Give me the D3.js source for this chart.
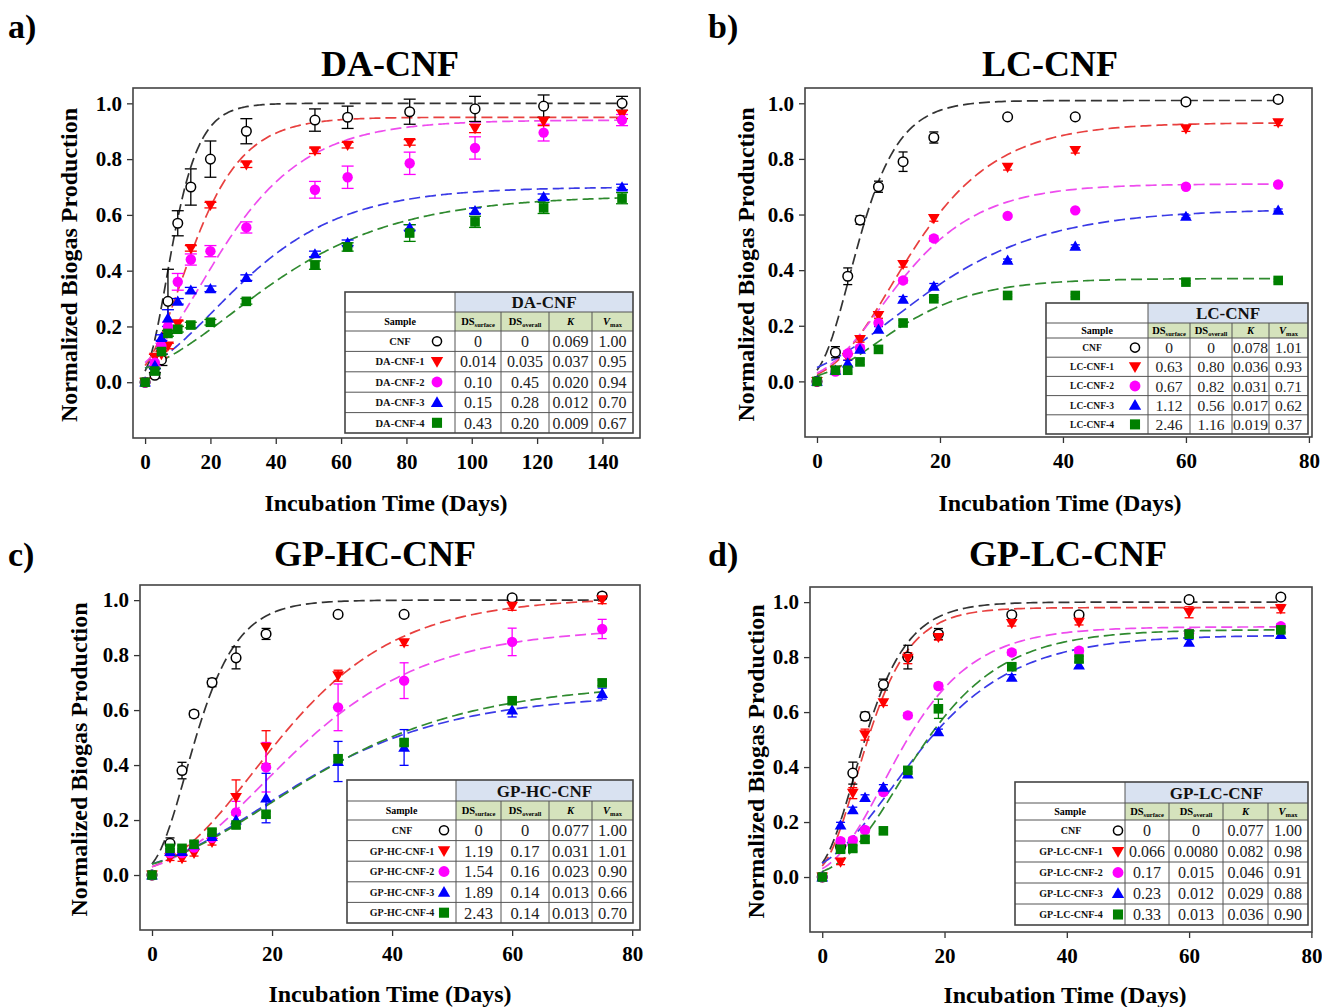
<!DOCTYPE html>
<html>
<head>
<meta charset="utf-8">
<script src="https://cdn.jsdelivr.net/npm/d3@7"></script>
<style>
  body { margin: 0; background: #fff; }
  svg { display: block; }
  text { font-family: "Liberation Serif", "Times New Roman", serif; }
</style>
</head>
<body>
<svg id="fig" width="1322" height="1007"></svg>
<script>
// ---------- sampling days ----------
const daysA = [0, 3, 5, 7, 10, 14, 20, 31, 52, 62, 81, 101, 122, 146];
const daysBCD = [0, 3, 5, 7, 10, 14, 19, 31, 42, 60, 75];

// ---------- a) DA-CNF ----------
const samplesA = ["CNF", "DA-CNF-1", "DA-CNF-2", "DA-CNF-3", "DA-CNF-4"];
const cnfA = [0, 0.025, 0.08, 0.29, 0.57, 0.70, 0.80, 0.90, 0.94, 0.95, 0.97, 0.98, 0.99, 1.00];
const da1 = [0, 0.09, 0.10, 0.13, 0.21, 0.48, 0.635, 0.78, 0.83, 0.85, 0.86, 0.91, 0.935, 0.96];
const da2 = [0, 0.07, 0.13, 0.20, 0.36, 0.44, 0.47, 0.555, 0.69, 0.735, 0.785, 0.84, 0.895, 0.94];
const da3 = [0, 0.06, 0.16, 0.23, 0.29, 0.33, 0.335, 0.375, 0.46, 0.50, 0.555, 0.615, 0.665, 0.70];
const da4 = [0, 0.04, 0.11, 0.175, 0.19, 0.205, 0.215, 0.29, 0.42, 0.485, 0.535, 0.575, 0.625, 0.66];
const cnfAErr = [0, 0.01, 0.02, 0.115, 0.045, 0.065, 0.065, 0.045, 0.04, 0.04, 0.045, 0.045, 0.04, 0.025];
const da1Err = [0, 0.01, 0.01, 0.01, 0.01, 0.01, 0.01, 0.01, 0.01, 0.01, 0.01, 0.015, 0.015, 0.015];
const da2Err = [0, 0.01, 0.01, 0.015, 0.03, 0.02, 0.02, 0.02, 0.03, 0.04, 0.04, 0.04, 0.03, 0.02];
const da3Err = [0, 0.01, 0.01, 0.03, 0.01, 0.01, 0.01, 0.01, 0.01, 0.01, 0.01, 0.01, 0.01, 0.01];
const da4Err = [0, 0.01, 0.01, 0.01, 0.01, 0.01, 0.01, 0.01, 0.015, 0.015, 0.03, 0.02, 0.02, 0.02];
const dsSurfaceA = ["0", "0.014", "0.10", "0.15", "0.43"];
const dsOverallA = ["0", "0.035", "0.45", "0.28", "0.20"];
const kA = ["0.069", "0.037", "0.020", "0.012", "0.009"];
const vmaxA = ["1.00", "0.95", "0.94", "0.70", "0.67"];
// Gompertz fit: start value and rate
const fitStartA = [0.04, 0.06, 0.07, 0.05, 0.05];
const fitRateA = [0.18, 0.095, 0.0566, 0.046, 0.036];

// ---------- b) LC-CNF ----------
const samplesB = ["CNF", "LC-CNF-1", "LC-CNF-2", "LC-CNF-3", "LC-CNF-4"];
const cnfB = [0, 0.105, 0.378, 0.58, 0.70, 0.79, 0.877, 0.951, 0.951, 1.005, 1.014];
const lc1 = [0, 0.04, 0.086, 0.151, 0.237, 0.421, 0.586, 0.77, 0.831, 0.909, 0.93];
const lc2 = [0, 0.035, 0.10, 0.12, 0.21, 0.363, 0.514, 0.595, 0.615, 0.70, 0.708];
const lc3 = [0, 0.04, 0.066, 0.115, 0.187, 0.295, 0.342, 0.435, 0.486, 0.593, 0.615];
const lc4 = [0, 0.04, 0.04, 0.07, 0.115, 0.21, 0.297, 0.309, 0.309, 0.357, 0.363];
const cnfBErr = [0, 0.02, 0.03, 0.015, 0.02, 0.035, 0.02, 0.005, 0.005, 0.01, 0.01];
const lc1Err = [0, 0.01, 0.01, 0.01, 0.01, 0.01, 0.01, 0.01, 0.01, 0.01, 0.01];
const lc2Err = [0, 0.01, 0.01, 0.01, 0.01, 0.01, 0.01, 0.005, 0.005, 0.005, 0.005];
const lc3Err = [0, 0.01, 0.01, 0.01, 0.01, 0.01, 0.01, 0.005, 0.005, 0.005, 0.005];
const lc4Err = [0, 0.01, 0.01, 0.01, 0.01, 0.01, 0.005, 0.005, 0.005, 0.005, 0.005];
const dsSurfaceB = ["0", "0.63", "0.67", "1.12", "2.46"];
const dsOverallB = ["0", "0.80", "0.82", "0.56", "1.16"];
const kB = ["0.078", "0.036", "0.031", "0.017", "0.019"];
const vmaxB = ["1.01", "0.93", "0.71", "0.62", "0.37"];
const fitStartB = [0.04, 0.025, 0.03, 0.05, 0.02];
const fitRateB = [0.225, 0.107, 0.113, 0.074, 0.112];

// ---------- c) GP-HC-CNF ----------
const samplesC = ["CNF", "GP-HC-CNF-1", "GP-HC-CNF-2", "GP-HC-CNF-3", "GP-HC-CNF-4"];
const cnfC = [0, 0.115, 0.38, 0.586, 0.70, 0.79, 0.877, 0.948, 0.948, 1.008, 1.015];
const hc1 = [0, 0.063, 0.06, 0.079, 0.119, 0.282, 0.465, 0.725, 0.845, 0.978, 1.002];
const hc2 = [0, 0.08, 0.08, 0.10, 0.135, 0.228, 0.392, 0.61, 0.707, 0.848, 0.895];
const hc3 = [0, 0.085, 0.085, 0.11, 0.14, 0.20, 0.28, 0.413, 0.464, 0.60, 0.66];
const hc4 = [0, 0.097, 0.097, 0.112, 0.156, 0.182, 0.221, 0.423, 0.482, 0.634, 0.699];
const cnfCErr = [0, 0.02, 0.03, 0.012, 0.015, 0.04, 0.02, 0.005, 0.005, 0.01, 0.01];
const hc1Err = [0, 0.01, 0.01, 0.01, 0.01, 0.064, 0.06, 0.02, 0.01, 0.015, 0.015];
const hc2Err = [0, 0.01, 0.01, 0.01, 0.01, 0.04, 0.09, 0.085, 0.065, 0.05, 0.035];
const hc3Err = [0, 0.01, 0.01, 0.01, 0.01, 0.03, 0.09, 0.073, 0.065, 0.025, 0.02];
const hc4Err = [0, 0.01, 0.01, 0.01, 0.01, 0.01, 0.01, 0.01, 0.01, 0.01, 0.01];
const dsSurfaceC = ["0", "1.19", "1.54", "1.89", "2.43"];
const dsOverallC = ["0", "0.17", "0.16", "0.14", "0.14"];
const kC = ["0.077", "0.031", "0.023", "0.013", "0.013"];
const vmaxC = ["1.00", "1.01", "0.90", "0.66", "0.70"];
const fitStartC = [0.04, 0.03, 0.03, 0.04, 0.04];
const fitRateC = [0.21, 0.075, 0.0664, 0.0572, 0.054];

// ---------- d) GP-LC-CNF ----------
const samplesD = ["CNF", "GP-LC-CNF-1", "GP-LC-CNF-2", "GP-LC-CNF-3", "GP-LC-CNF-4"];
const cnfD = [0, 0.11, 0.378, 0.585, 0.70, 0.80, 0.884, 0.954, 0.954, 1.009, 1.018];
const lcg1 = [0, 0.055, 0.305, 0.518, 0.634, 0.796, 0.872, 0.923, 0.927, 0.963, 0.976];
const lcg2 = [0, 0.13, 0.134, 0.171, 0.309, 0.588, 0.695, 0.817, 0.823, 0.887, 0.912];
const lcg3 = [0, 0.189, 0.244, 0.289, 0.326, 0.374, 0.528, 0.726, 0.771, 0.854, 0.882];
const lcg4 = [0, 0.101, 0.104, 0.137, 0.168, 0.388, 0.612, 0.765, 0.793, 0.884, 0.899];
const cnfDErr = [0, 0.02, 0.04, 0.015, 0.02, 0.043, 0.02, 0.005, 0.005, 0.01, 0.01];
const lcg1Err = [0, 0.01, 0.02, 0.02, 0.01, 0.02, 0.01, 0.01, 0.01, 0.02, 0.015];
const lcg2Err = [0, 0.01, 0.01, 0.01, 0.01, 0.01, 0.01, 0.01, 0.01, 0.01, 0.01];
const lcg3Err = [0, 0.01, 0.01, 0.01, 0.01, 0.01, 0.01, 0.01, 0.01, 0.01, 0.01];
const lcg4Err = [0, 0.01, 0.01, 0.01, 0.01, 0.01, 0.035, 0.01, 0.01, 0.015, 0.01];
const dsSurfaceD = ["0", "0.066", "0.17", "0.23", "0.33"];
const dsOverallD = ["0", "0.0080", "0.015", "0.012", "0.013"];
const kD = ["0.077", "0.082", "0.046", "0.029", "0.036"];
const vmaxD = ["1.00", "0.98", "0.91", "0.88", "0.90"];
const fitStartD = [0.05, 0.04, 0.03, 0.05, 0.02];
const fitRateD = [0.21, 0.209, 0.125, 0.0927, 0.1087];

// ---------- shared ticks and styles ----------
const yTickValues = [0, 0.2, 0.4, 0.6, 0.8, 1.0];
const xTicksA = [0, 20, 40, 60, 80, 100, 120, 140];
const xTicksBCD = [0, 20, 40, 60, 80];
const markerColors = ["#000000", "#ff0000", "#ff00ff", "#0000ff", "#008000"];
const curveColors = ["#333333", "#e8403f", "#ee4cee", "#3a3ae6", "#2f8a2f"];
const markerTypes = ["open", "down", "circle", "up", "square"];

const panels = [
  { label: "a)", title: "DA-CNF", days: daysA,
    series: [cnfA, da1, da2, da3, da4], errs: [cnfAErr, da1Err, da2Err, da3Err, da4Err],
    samples: samplesA, dsS: dsSurfaceA, dsO: dsOverallA, k: kA, vmax: vmaxA,
    fitStart: fitStartA, fitRate: fitRateA, xTicks: xTicksA,
    L: { lx: 8, ly: 38, tx: 390, ty: 76, fx0: 133, fx1: 640, fy0: 88, fy1: 438, xd: [-3.7, 151.5],
         ytx: 69, xtx: 386, xty: 511, cap: 12,
         tab: { cols: [345, 455, 501, 549, 592, 633], rows: [292, 312, 331], rowH: 20.4, nameX: 400, markX: 437, nameSize: 10.5, valSize: 16 } } },
  { label: "b)", title: "LC-CNF", days: daysBCD,
    series: [cnfB, lc1, lc2, lc3, lc4], errs: [cnfBErr, lc1Err, lc2Err, lc3Err, lc4Err],
    samples: samplesB, dsS: dsSurfaceB, dsO: dsOverallB, k: kB, vmax: vmaxB,
    fitStart: fitStartB, fitRate: fitRateB, xTicks: xTicksBCD,
    L: { lx: 708, ly: 38, tx: 1050, ty: 76, fx0: 805, fx1: 1312, fy0: 88, fy1: 437, xd: [-1.95, 80.5],
         ytx: 746, xtx: 1060, xty: 511, cap: 9,
         tab: { cols: [1046, 1148, 1190, 1232, 1269, 1308], rows: [303, 323, 338], rowH: 19.2, nameX: 1092, markX: 1135, nameSize: 9.5, valSize: 15.5 } } },
  { label: "c)", title: "GP-HC-CNF", days: daysBCD,
    series: [cnfC, hc1, hc2, hc3, hc4], errs: [cnfCErr, hc1Err, hc2Err, hc3Err, hc4Err],
    samples: samplesC, dsS: dsSurfaceC, dsO: dsOverallC, k: kC, vmax: vmaxC,
    fitStart: fitStartC, fitRate: fitRateC, xTicks: xTicksBCD,
    L: { lx: 8, ly: 566, tx: 375, ty: 566, fx0: 140, fx1: 640, fy0: 585, fy1: 930, xd: [-2, 81.3],
         ytx: 79, xtx: 390, xty: 1002, cap: 9,
         tab: { cols: [347, 456, 501, 549, 592, 633], rows: [780, 801, 820], rowH: 20.6, nameX: 402, markX: 444, nameSize: 10, valSize: 16.5 } } },
  { label: "d)", title: "GP-LC-CNF", days: daysBCD,
    series: [cnfD, lcg1, lcg2, lcg3, lcg4], errs: [cnfDErr, lcg1Err, lcg2Err, lcg3Err, lcg4Err],
    samples: samplesD, dsS: dsSurfaceD, dsO: dsOverallD, k: kD, vmax: vmaxD,
    fitStart: fitStartD, fitRate: fitRateD, xTicks: xTicksBCD,
    L: { lx: 708, ly: 566, tx: 1068, ty: 566, fx0: 810, fx1: 1312, fy0: 587, fy1: 932, xd: [-2, 80.1],
         ytx: 756, xtx: 1065, xty: 1003, cap: 9,
         tab: { cols: [1015, 1125, 1169, 1223, 1268, 1308], rows: [782, 803, 820], rowH: 21, nameX: 1071, markX: 1118, nameSize: 10, valSize: 16 } } }
];

const svg = d3.select("#fig");

function drawMarker(g, type, color, x, y, scale) {
  const s = scale || 1;
  if (type === "open") {
    g.append("circle").attr("cx", x).attr("cy", y).attr("r", 4.8 * s)
      .attr("fill", "#fff").attr("stroke", "#000").attr("stroke-width", 1.5);
  } else if (type === "circle") {
    g.append("circle").attr("cx", x).attr("cy", y).attr("r", 5.2 * s).attr("fill", color);
  } else if (type === "square") {
    g.append("rect").attr("x", x - 4.8 * s).attr("y", y - 4.8 * s)
      .attr("width", 9.6 * s).attr("height", 9.6 * s).attr("fill", color);
  } else {
    const sym = d3.symbol().type(d3.symbolTriangle).size(60 * s * s);
    g.append("path").attr("d", sym())
      .attr("transform", `translate(${x},${y + (type === "down" ? -1 : 1)}) rotate(${type === "down" ? 180 : 0})`)
      .attr("fill", color);
  }
}

panels.forEach(p => {
  const L = p.L;
  const g = svg.append("g");
  const x = d3.scaleLinear().domain(L.xd).range([L.fx0, L.fx1]);
  const y = d3.scaleLinear().domain([-0.2, 1.055]).range([L.fy1, L.fy0]);

  // panel letter and title
  g.append("text").attr("x", L.lx).attr("y", L.ly).attr("font-size", 34).attr("font-weight", "bold").text(p.label);
  g.append("text").attr("x", L.tx).attr("y", L.ty).attr("text-anchor", "middle")
    .attr("font-size", 36).attr("font-weight", "bold").text(p.title);

  // axes
  const yAxis = d3.axisLeft(y).tickValues(yTickValues).tickFormat(d3.format(".1f")).tickSize(6).tickPadding(5);
  const xAxis = d3.axisBottom(x).tickValues(p.xTicks).tickFormat(d3.format("d")).tickSize(6).tickPadding(10);
  const ya = g.append("g").attr("transform", `translate(${L.fx0},0)`).call(yAxis);
  const xa = g.append("g").attr("transform", `translate(0,${L.fy1})`).call(xAxis);
  [ya, xa].forEach(a => {
    a.select(".domain").remove();
    a.selectAll(".tick line").attr("stroke", "#333").attr("stroke-width", 1.3);
    a.selectAll(".tick text").attr("font-family", "Liberation Serif, serif")
      .attr("font-size", 21).attr("font-weight", "bold").attr("fill", "#000");
  });

  // axis titles
  g.append("text").attr("x", L.xtx).attr("y", L.xty).attr("text-anchor", "middle")
    .attr("font-size", 24).attr("font-weight", "bold").text("Incubation Time (Days)");
  g.append("text").attr("transform", `translate(${L.ytx},${(L.fy0 + L.fy1) / 2 + 2}) rotate(-90)`)
    .attr("text-anchor", "middle").attr("dominant-baseline", "central")
    .attr("font-size", 24).attr("font-weight", "bold").text("Normalized Biogas Production");

  // plot content clipped to frame
  const clipId = "clip" + p.label[0];
  g.append("clipPath").attr("id", clipId).append("rect")
    .attr("x", L.fx0).attr("y", L.fy0).attr("width", L.fx1 - L.fx0).attr("height", L.fy1 - L.fy0);
  const plot = g.append("g").attr("clip-path", `url(#${clipId})`);

  // fitted curves
  const tMax = d3.max(p.days);
  const tGrid = d3.range(0, tMax + 0.25, 0.5);
  p.series.forEach((s, i) => {
    const V = +p.vmax[i];
    const b = Math.log(V / p.fitStart[i]);
    const c = p.fitRate[i];
    const pts = tGrid.map(t => [t, V * Math.exp(-b * Math.exp(-c * t))]);
    plot.append("path").datum(pts)
      .attr("d", d3.line().x(d => x(d[0])).y(d => y(d[1])))
      .attr("fill", "none").attr("stroke", curveColors[i]).attr("stroke-width", 1.7)
      .attr("stroke-dasharray", "11,5");
  });

  // error bars
  p.series.forEach((s, i) => {
    const col = markerColors[i];
    s.forEach((v, j) => {
      const e = p.errs[i][j];
      if (!e) return;
      const cx = x(p.days[j]);
      plot.append("line").attr("x1", cx).attr("x2", cx).attr("y1", y(v - e)).attr("y2", y(v + e))
        .attr("stroke", col).attr("stroke-width", 1.3);
      [v - e, v + e].forEach(w => {
        plot.append("line").attr("x1", cx - L.cap / 2).attr("x2", cx + L.cap / 2)
          .attr("y1", y(w)).attr("y2", y(w)).attr("stroke", col).attr("stroke-width", 1.3);
      });
    });
  });

  // markers
  p.series.forEach((s, i) => {
    s.forEach((v, j) => drawMarker(plot, markerTypes[i], markerColors[i], x(p.days[j]), y(v)));
  });

  // frame
  g.append("rect").attr("x", L.fx0).attr("y", L.fy0).attr("width", L.fx1 - L.fx0).attr("height", L.fy1 - L.fy0)
    .attr("fill", "none").attr("stroke", "#444").attr("stroke-width", 1.6);

  // parameter table
  const T = L.tab;
  const cols = T.cols;
  const rowTops = [T.rows[0], T.rows[1], T.rows[2]];
  for (let r = 1; r <= 5; r++) rowTops.push(T.rows[2] + r * T.rowH);
  const tg = g.append("g");
  const left = cols[0], right = cols[5], top = rowTops[0], bottom = rowTops[7];
  tg.append("rect").attr("x", left).attr("y", top).attr("width", right - left).attr("height", bottom - top).attr("fill", "#fff");
  tg.append("rect").attr("x", cols[1]).attr("y", rowTops[0]).attr("width", right - cols[1])
    .attr("height", rowTops[1] - rowTops[0]).attr("fill", "#d9e2f1");
  tg.append("rect").attr("x", cols[1]).attr("y", rowTops[1]).attr("width", right - cols[1])
    .attr("height", rowTops[2] - rowTops[1]).attr("fill", "#d5e3bd");
  // grid lines
  rowTops.slice(1, 7).forEach(ry => tg.append("line").attr("x1", left).attr("x2", right).attr("y1", ry).attr("y2", ry)
    .attr("stroke", "#555").attr("stroke-width", 1));
  cols.slice(1, 5).forEach((cx, k) => tg.append("line").attr("x1", cx).attr("x2", cx)
    .attr("y1", k === 0 ? top : rowTops[1]).attr("y2", bottom).attr("stroke", "#555").attr("stroke-width", 1));
  tg.append("rect").attr("x", left).attr("y", top).attr("width", right - left).attr("height", bottom - top)
    .attr("fill", "none").attr("stroke", "#444").attr("stroke-width", 1.6);

  const mid = k => (rowTops[k] + rowTops[k + 1]) / 2;
  const cmid = k => (cols[k] + cols[k + 1]) / 2;
  tg.append("text").attr("x", (cols[1] + right) / 2).attr("y", mid(0)).attr("dy", "0.36em").attr("text-anchor", "middle")
    .attr("font-size", 17).attr("font-weight", "bold").attr("fill", "#111").text(p.title);
  tg.append("text").attr("x", cmid(0)).attr("y", mid(1)).attr("dy", "0.36em").attr("text-anchor", "middle")
    .attr("font-size", 10).attr("font-weight", "bold").text("Sample");
  // header cells with subscripts
  const heads = [["DS", "surface", false], ["DS", "overall", false], ["K", "", true], ["V", "max", true]];
  heads.forEach((h, k) => {
    const t = tg.append("text").attr("x", cmid(k + 1)).attr("y", mid(1)).attr("dy", "0.3em").attr("text-anchor", "middle")
      .attr("font-weight", "bold").attr("font-size", 10.5);
    t.append("tspan").attr("font-style", h[2] ? "italic" : "normal").text(h[0]);
    if (h[1]) t.append("tspan").attr("font-size", 6.5).attr("dy", 2.5).text(h[1]);
  });
  // data rows
  p.samples.forEach((name, i) => {
    const cy = mid(i + 2);
    tg.append("text").attr("x", T.nameX).attr("y", cy).attr("dy", "0.36em").attr("text-anchor", "middle")
      .attr("font-size", T.nameSize).attr("font-weight", "bold").attr("fill", "#111").text(name);
    drawMarker(tg, markerTypes[i], markerColors[i], T.markX, cy, i === 0 ? 0.95 : 1.05);
    [p.dsS[i], p.dsO[i], p.k[i], p.vmax[i]].forEach((val, k) => {
      tg.append("text").attr("x", cmid(k + 1)).attr("y", cy).attr("dy", "0.36em").attr("text-anchor", "middle")
        .attr("font-size", T.valSize).attr("fill", "#222").text(val);
    });
  });
});
</script>
</body>
</html>
